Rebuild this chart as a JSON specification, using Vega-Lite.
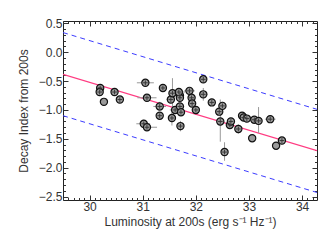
{
  "$schema": "https://vega.github.io/schema/vega-lite/v6.json",
  "width": 254,
  "height": 179,
  "autosize": "none",
  "padding": {"left": 63, "top": 21, "right": 19, "bottom": 40},
  "background": "white",
  "config": {
    "view": {"stroke": "#222", "strokeWidth": 1},
    "axis": {"grid": false, "domain": false, "tickColor": "#333", "labelColor": "#333", "titleColor": "#333", "labelFont": "Liberation Sans", "titleFont": "Liberation Sans", "labelFontSize": 12, "titleFontSize": 12, "titleFontWeight": "normal"}
  },
  "datasets": {
    "pts": [
      {"lum": 30.20, "idx": -0.62, "cross": 1},
      {"lum": 30.19, "idx": -0.69, "cross": 1},
      {"lum": 30.27, "idx": -0.86, "cross": 0},
      {"lum": 30.47, "idx": -0.69, "cross": 1},
      {"lum": 30.57, "idx": -0.82, "cross": 1},
      {"lum": 31.05, "idx": -0.53, "cross": 1},
      {"lum": 31.08, "idx": -0.79, "cross": 1},
      {"lum": 31.38, "idx": -0.62, "cross": 1},
      {"lum": 31.02, "idx": -1.24, "cross": 1},
      {"lum": 31.08, "idx": -1.30, "cross": 1},
      {"lum": 31.32, "idx": -0.94, "cross": 1},
      {"lum": 31.32, "idx": -1.10, "cross": 1},
      {"lum": 31.53, "idx": -0.82, "cross": 1},
      {"lum": 31.56, "idx": -0.71, "cross": 1},
      {"lum": 31.55, "idx": -1.14, "cross": 1},
      {"lum": 31.61, "idx": -1.00, "cross": 1},
      {"lum": 31.70, "idx": -0.75, "cross": 1},
      {"lum": 31.70, "idx": -0.79, "cross": 1},
      {"lum": 31.68, "idx": -0.69, "cross": 1},
      {"lum": 31.70, "idx": -0.94, "cross": 1},
      {"lum": 31.72, "idx": -1.04, "cross": 1},
      {"lum": 31.71, "idx": -1.28, "cross": 1},
      {"lum": 31.88, "idx": -0.67, "cross": 1},
      {"lum": 31.92, "idx": -0.79, "cross": 1},
      {"lum": 31.93, "idx": -0.89, "cross": 1},
      {"lum": 32.00, "idx": -1.00, "cross": 1},
      {"lum": 32.14, "idx": -0.47, "cross": 1},
      {"lum": 32.14, "idx": -0.73, "cross": 1},
      {"lum": 32.30, "idx": -0.87, "cross": 1},
      {"lum": 32.44, "idx": -1.03, "cross": 1},
      {"lum": 32.50, "idx": -0.93, "cross": 1},
      {"lum": 32.46, "idx": -1.20, "cross": 1},
      {"lum": 32.54, "idx": -1.73, "cross": 1},
      {"lum": 32.64, "idx": -1.26, "cross": 1},
      {"lum": 32.66, "idx": -1.20, "cross": 1},
      {"lum": 32.80, "idx": -1.33, "cross": 1},
      {"lum": 32.87, "idx": -1.10, "cross": 0},
      {"lum": 32.90, "idx": -1.13, "cross": 1},
      {"lum": 32.96, "idx": -1.15, "cross": 1},
      {"lum": 33.06, "idx": -1.49, "cross": 0},
      {"lum": 33.10, "idx": -1.17, "cross": 1},
      {"lum": 33.18, "idx": -1.19, "cross": 1},
      {"lum": 33.40, "idx": -1.16, "cross": 1},
      {"lum": 33.51, "idx": -1.62, "cross": 0},
      {"lum": 33.62, "idx": -1.53, "cross": 1}
    ],
    "xerr": [
      {"idx": -0.53, "lo": 30.89, "hi": 31.21},
      {"idx": -0.79, "lo": 30.90, "hi": 31.26},
      {"idx": -1.24, "lo": 30.88, "hi": 31.14},
      {"idx": -1.30, "lo": 30.98, "hi": 31.27},
      {"idx": -0.94, "lo": 31.20, "hi": 31.44},
      {"idx": -0.82, "lo": 31.45, "hi": 31.61},
      {"idx": -1.00, "lo": 31.51, "hi": 31.71},
      {"idx": -0.94, "lo": 31.62, "hi": 31.78},
      {"idx": -0.67, "lo": 31.78, "hi": 31.98},
      {"idx": -0.69, "lo": 31.60, "hi": 31.80},
      {"idx": -0.73, "lo": 32.06, "hi": 32.22},
      {"idx": -1.33, "lo": 32.74, "hi": 32.86},
      {"idx": -1.10, "lo": 32.82, "hi": 32.93},
      {"idx": -1.15, "lo": 32.90, "hi": 33.02},
      {"idx": -1.17, "lo": 33.02, "hi": 33.18},
      {"idx": -1.16, "lo": 33.30, "hi": 33.50},
      {"idx": -1.22, "lo": 32.58, "hi": 32.70},
      {"idx": -0.62, "lo": 30.15, "hi": 30.25}
    ],
    "yerr": [
      {"lum": 31.56, "lo": -0.98, "hi": -0.45},
      {"lum": 31.55, "lo": -1.27, "hi": -1.01},
      {"lum": 31.32, "lo": -1.00, "hi": -0.86},
      {"lum": 31.71, "lo": -1.37, "hi": -1.19},
      {"lum": 31.92, "lo": -0.87, "hi": -0.71},
      {"lum": 32.14, "lo": -0.84, "hi": -0.62},
      {"lum": 32.46, "lo": -1.55, "hi": -0.82},
      {"lum": 32.54, "lo": -1.88, "hi": -1.56},
      {"lum": 32.50, "lo": -1.00, "hi": -0.86},
      {"lum": 32.80, "lo": -1.41, "hi": -1.25},
      {"lum": 33.18, "lo": -1.40, "hi": -0.95},
      {"lum": 33.40, "lo": -1.22, "hi": -1.09},
      {"lum": 32.64, "lo": -1.31, "hi": -1.17},
      {"lum": 31.02, "lo": -1.29, "hi": -1.17}
    ],
    "lines": [
      {"lum": 29.5, "idx": -0.385, "kind": "fit"},
      {"lum": 34.28, "idx": -1.705, "kind": "fit"},
      {"lum": 29.5, "idx": 0.34, "kind": "upper"},
      {"lum": 34.28, "idx": -0.99, "kind": "upper"},
      {"lum": 29.5, "idx": -1.10, "kind": "lower"},
      {"lum": 34.28, "idx": -2.43, "kind": "lower"}
    ]
  },
  "resolve": {"axis": {"x": "independent", "y": "independent"}},
  "layer": [
    {
      "data": {"name": "lines"},
      "transform": [{"filter": "datum.kind === 'fit'"}],
      "mark": {"type": "line", "color": "#ff3c82", "strokeWidth": 1.2, "clip": true},
      "encoding": {
        "x": {"field": "lum", "type": "quantitative", "scale": {"domain": [29.5, 34.28], "nice": false, "zero": false},
          "axis": {"orient": "top", "title": null, "labels": false, "values": [29.5,29.6,29.7,29.8,29.9,30,30.1,30.2,30.3,30.4,30.5,30.6,30.7,30.8,30.9,31,31.1,31.2,31.3,31.4,31.5,31.6,31.7,31.8,31.9,32,32.1,32.2,32.3,32.4,32.5,32.6,32.7,32.8,32.9,33,33.1,33.2,33.3,33.4,33.5,33.6,33.7,33.8,33.9,34,34.1,34.2],
            "tickSize": {"condition": {"test": "abs(datum.value - round(datum.value)) < 0.01", "value": -5}, "value": -2.5}}},
        "y": {"field": "idx", "type": "quantitative", "scale": {"domain": [-2.56, 0.54], "nice": false, "zero": false},
          "axis": {"orient": "right", "title": null, "labels": false, "values": [-2.5,-2.4,-2.3,-2.2,-2.1,-2,-1.9,-1.8,-1.7,-1.6,-1.5,-1.4,-1.3,-1.2,-1.1,-1,-0.9,-0.8,-0.7,-0.6,-0.5,-0.4,-0.3,-0.2,-0.1,0,0.1,0.2,0.3,0.4,0.5],
            "tickSize": {"condition": {"test": "abs(datum.value*2 - round(datum.value*2)) < 0.01", "value": -5}, "value": -2.5}}}
      }
    },
    {
      "data": {"name": "lines"},
      "transform": [{"filter": "datum.kind !== 'fit'"}],
      "mark": {"type": "line", "color": "#3c3cff", "strokeWidth": 1, "strokeDash": [5, 4], "clip": true},
      "encoding": {
        "detail": {"field": "kind"},
        "x": {"field": "lum", "type": "quantitative", "axis": null},
        "y": {"field": "idx", "type": "quantitative", "axis": null}
      }
    },
    {
      "data": {"name": "xerr"},
      "mark": {"type": "rule", "color": "#999", "strokeWidth": 1},
      "encoding": {
        "x": {"field": "lo", "type": "quantitative", "axis": null},
        "x2": {"field": "hi"},
        "y": {"field": "idx", "type": "quantitative", "axis": null}
      }
    },
    {
      "data": {"name": "yerr"},
      "mark": {"type": "rule", "color": "#999", "strokeWidth": 1},
      "encoding": {
        "x": {"field": "lum", "type": "quantitative", "axis": null},
        "y": {"field": "lo", "type": "quantitative", "axis": null},
        "y2": {"field": "hi"}
      }
    },
    {
      "data": {"name": "pts"},
      "mark": {"type": "point", "shape": "circle", "filled": true, "fill": "#9a9a9a", "stroke": "#111", "strokeWidth": 1.2, "size": 52, "opacity": 1},
      "encoding": {
        "x": {"field": "lum", "type": "quantitative",
          "axis": {"orient": "bottom", "title": "Luminosity at 200s (erg s⁻¹ Hz⁻¹)", "titlePadding": 4, "labelPadding": 6, "values": [29.5,29.6,29.7,29.8,29.9,30,30.1,30.2,30.3,30.4,30.5,30.6,30.7,30.8,30.9,31,31.1,31.2,31.3,31.4,31.5,31.6,31.7,31.8,31.9,32,32.1,32.2,32.3,32.4,32.5,32.6,32.7,32.8,32.9,33,33.1,33.2,33.3,33.4,33.5,33.6,33.7,33.8,33.9,34,34.1,34.2],
            "labelExpr": "abs(datum.value - round(datum.value)) < 0.01 ? format(datum.value, 'd') : ''",
            "tickSize": {"condition": {"test": "abs(datum.value - round(datum.value)) < 0.01", "value": -5}, "value": -2.5}}},
        "y": {"field": "idx", "type": "quantitative",
          "axis": {"orient": "left", "title": "Decay Index from 200s", "titlePadding": 8, "labelPadding": 6, "values": [-2.5,-2.4,-2.3,-2.2,-2.1,-2,-1.9,-1.8,-1.7,-1.6,-1.5,-1.4,-1.3,-1.2,-1.1,-1,-0.9,-0.8,-0.7,-0.6,-0.5,-0.4,-0.3,-0.2,-0.1,0,0.1,0.2,0.3,0.4,0.5],
            "labelExpr": "abs(datum.value*2 - round(datum.value*2)) < 0.01 ? format(datum.value, '.1f') : ''",
            "tickSize": {"condition": {"test": "abs(datum.value*2 - round(datum.value*2)) < 0.01", "value": -5}, "value": -2.5}}}
      }
    },
    {
      "data": {"name": "pts"},
      "transform": [{"filter": "datum.cross === 1"}],
      "mark": {"type": "point", "shape": "M-1,0L1,0M0,-1L0,1", "filled": false, "stroke": "#3a3a3a", "strokeWidth": 1, "size": 22, "opacity": 1},
      "encoding": {
        "x": {"field": "lum", "type": "quantitative", "axis": null},
        "y": {"field": "idx", "type": "quantitative", "axis": null}
      }
    }
  ]
}
